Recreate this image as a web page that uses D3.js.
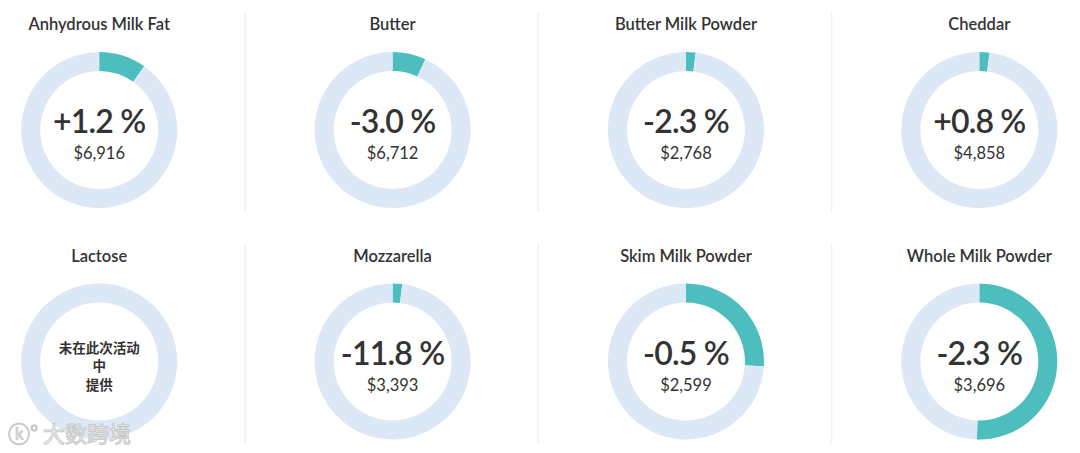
<!DOCTYPE html>
<html>
<head>
<meta charset="utf-8">
<script src="https://cdn.jsdelivr.net/npm/d3@7"></script>
<style>
  html, body { margin: 0; padding: 0; background: #fff; }
  svg { display: block; font-family: Lato, "Noto Sans", sans-serif; }
</style>
</head>
<body>
<svg id="chart" width="1080" height="453"></svg>
<script>
// values
const products = ["Anhydrous Milk Fat", "Butter", "Butter Milk Powder", "Cheddar",
                  "Lactose", "Mozzarella", "Skim Milk Powder", "Whole Milk Powder"];
const changes = [1.2, -3.0, -2.3, 0.8, null, -11.8, -0.5, -2.3];
const prices = [6916, 6712, 2768, 4858, null, 3393, 2599, 3696];
const shares = [0.098, 0.069, 0.02, 0.021, 0, 0.02, 0.26, 0.505];
const notOffered = ["未在此次活动", "中", "提供"];

const W = 1080, H = 453;
const cols = 4;
const svg = d3.select("#chart");

const x = d3.scaleBand().domain(d3.range(cols)).range([-47.5, W + 46]).padding(0);
const y = d3.scaleBand().domain([0, 1]).range([14, 477]);

const rOuter = 78, rInner = 59;
const arc = d3.arc().innerRadius(rInner).outerRadius(rOuter);
const pie = d3.pie().sort(null).value(d => d);

const fmtPrice = d3.format("$,");
const fmtPct = v => (v > 0 ? "+" : "") + v.toFixed(1) + " %";

// vertical dividers
[1, 2, 3].forEach(c => {
  [0, 1].forEach(r => {
    svg.append("line")
      .attr("x1", x(c) - 1).attr("x2", x(c) - 1)
      .attr("y1", y(r) - 2).attr("y2", y(r) + 198)
      .attr("stroke", "#f1f1f1").attr("stroke-width", 1.5);
  });
});

products.forEach((name, i) => {
  const cx = x(i % cols) + x.bandwidth() / 2;
  const top = y(Math.floor(i / cols));
  const g = svg.append("g");

  g.append("text")
    .attr("x", cx).attr("y", top + 16)
    .attr("text-anchor", "middle")
    .attr("font-size", 16.5).attr("font-weight", 600)
    .attr("fill", "#333")
    .text(name);

  const cg = g.append("g").attr("transform", `translate(${cx},${top + 116})`);
  cg.selectAll("path")
    .data(pie([shares[i], 1 - shares[i]]))
    .join("path")
    .attr("d", arc)
    .attr("fill", (d, k) => k === 0 ? "#4dbdbd" : "#dce8f5");

  if (changes[i] === null) {
    cg.selectAll("text.na")
      .data(notOffered)
      .join("text")
      .attr("class", "na")
      .attr("text-anchor", "middle")
      .attr("y", (d, k) => -9 + k * 18.5)
      .attr("font-family", "'Noto Sans CJK SC', sans-serif")
      .attr("font-size", 13.5).attr("font-weight", 700)
      .attr("fill", "#333")
      .text(d => d);
  } else {
    cg.append("text")
      .attr("text-anchor", "middle").attr("y", 3)
      .attr("font-size", 32).attr("font-weight", 600)
      .attr("letter-spacing", -0.8)
      .attr("fill", "#333")
      .text(fmtPct(changes[i]));
    cg.append("text")
      .attr("text-anchor", "middle").attr("y", 29)
      .attr("font-size", 16.5)
      .attr("fill", "#333")
      .text(fmtPrice(prices[i]));
  }
});

// watermark
svg.append("text")
  .attr("x", 8).attr("y", 442)
  .attr("font-family", "'Noto Sans CJK SC', sans-serif")
  .attr("font-size", 22)
  .attr("fill", "#fff").attr("stroke", "#c8c8c8").attr("stroke-width", 1)
  .text("ⓚ° 大数跨境");
</script>
</body>
</html>
